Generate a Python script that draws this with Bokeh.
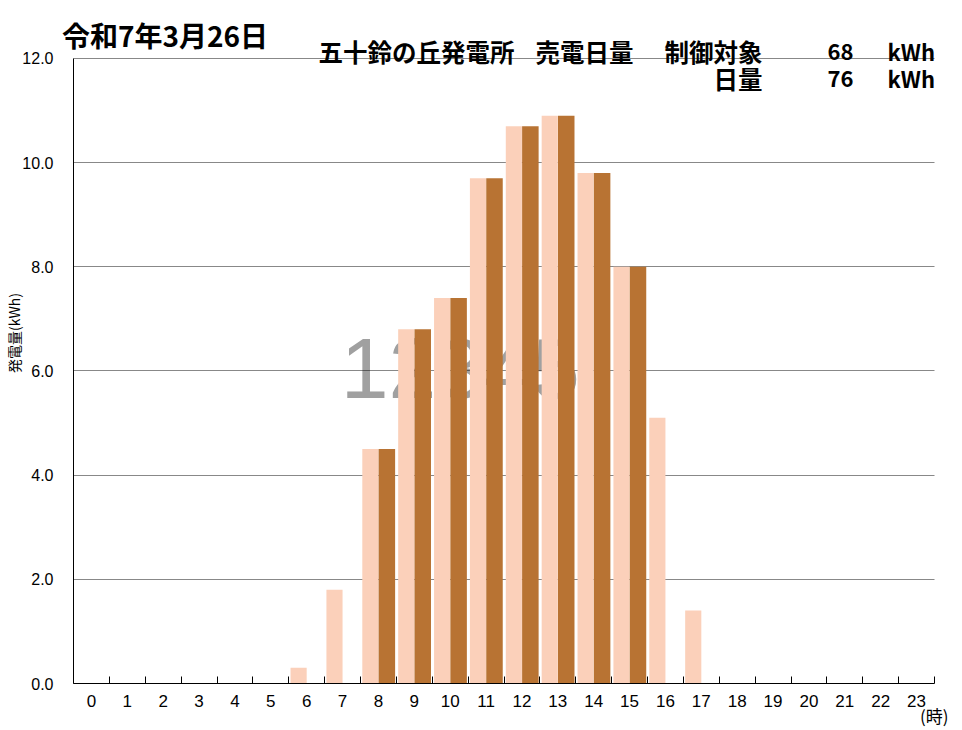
import math
from bokeh.plotting import figure
from bokeh.models import (ColumnDataSource, FixedTicker, PrintfTickFormatter, Label,
                          Range1d, LinearAxis)
from bokeh.transform import dodge
from bokeh.embed import file_html
from bokeh.resources import INLINE

# ---- data ----
hours = list(range(24))
generation = [0, 0, 0, 0, 0, 0, 0.3, 1.8, 4.5, 6.8, 7.4, 9.7,
              10.7, 10.9, 9.8, 8.0, 5.1, 1.4, 0, 0, 0, 0, 0, 0]
controlled = [0, 0, 0, 0, 0, 0, 0, 0, 4.5, 6.8, 7.4, 9.7,
              10.7, 10.9, 9.8, 8.0, 0, 0, 0, 0, 0, 0, 0, 0]
y_ticks = [0, 2, 4, 6, 8, 10, 12]
title_text = "令和7年3月26日"
plant_text = "五十鈴の丘発電所"
sales_text = "売電日量"
ctrl_text = "制御対象"
ctrl_value = "68"
day_text = "日量"
day_value = "76"
unit_text = "kWh"
y_label = "発電量(kWh)"
x_unit = "(時)"
watermark = "12345"

LIGHT = "#FBD0BA"
DARK = "#B87333"
JP = "Noto Sans CJK JP"

W, H = 962, 730
src = ColumnDataSource(dict(hour=hours, gen=generation, ctrl=controlled))

p = figure(width=W, height=H, output_backend="svg", toolbar_location=None,
           x_range=Range1d(-0.5, 23.5), y_range=Range1d(0, 12.383),
           min_border_left=73, min_border_right=W - 934, min_border_top=38,
           min_border_bottom=H - 685)
p.outline_line_color = None
p.background_fill_color = "white"
p.border_fill_color = "white"

p.vbar(x=dodge("hour", -0.225, range=p.x_range), top="gen", width=0.45, source=src,
       fill_color=LIGHT, line_color=None)
p.vbar(x=dodge("hour", 0.235, range=p.x_range), top="ctrl", width=0.46, source=src,
       fill_color=DARK, line_color=None)

# x axis: labels at hours, tick marks between hours
xa = p.xaxis[0]
xa.ticker = FixedTicker(ticks=hours, minor_ticks=[h - 0.5 for h in hours] + [23.5])
xa.major_tick_in = 0
xa.major_tick_out = 0
xa.minor_tick_in = 7
xa.minor_tick_out = 0
xa.minor_tick_line_color = "black"
xa.axis_line_color = "black"
xa.major_label_text_font = "Liberation Sans"
xa.major_label_text_font_size = "17px"
xa.major_label_text_color = "black"
xa.major_label_standoff = 11

# unit label axis under the hour labels
xu = LinearAxis(ticker=FixedTicker(ticks=[23.49]), formatter=PrintfTickFormatter(format=x_unit),
                axis_line_color=None, major_tick_in=0, major_tick_out=0,
                minor_tick_line_color=None, major_label_standoff=-7,
                major_label_text_font=JP, major_label_text_font_size="17px",
                major_label_text_color="black")
p.add_layout(xu, "below")

# y axis
ya = p.yaxis[0]
yt = FixedTicker(ticks=y_ticks)
ya.ticker = yt
ya.bounds = (0, 12)
ya.formatter = PrintfTickFormatter(format="%.1f")
ya.major_tick_in = 0
ya.major_tick_out = 0
ya.minor_tick_line_color = None
ya.axis_line_color = "black"
ya.major_label_text_font = "Liberation Sans"
ya.major_label_text_font_size = "16px"
ya.major_label_text_color = "black"
ya.major_label_standoff = 20
ya.axis_label = "\u3000\u3000\u3000\u3000" + y_label
ya.axis_label_standoff = -5
ya.axis_label_text_font = JP
ya.axis_label_text_font_size = "14px"
ya.axis_label_text_font_style = "normal"
ya.axis_label_text_color = "black"

# date title as a top label axis
ta = LinearAxis(ticker=FixedTicker(ticks=[2.05]), formatter=PrintfTickFormatter(format=title_text),
                axis_line_color=None, major_tick_in=0, major_tick_out=0,
                minor_tick_line_color=None, major_label_standoff=-16,
                major_label_text_font=JP, major_label_text_font_size="28px",
                major_label_text_font_style="bold", major_label_text_color="black")
p.add_layout(ta, "above")

p.xgrid.visible = False
p.ygrid.ticker = yt
p.ygrid.grid_line_color = "#111111"
p.ygrid.grid_line_dash = "1 1"
p.ygrid.grid_line_width = 1

# watermark behind bars
p.add_layout(Label(x=6.95, y=6.05, text=watermark, text_font="Liberation Sans",
                   text_font_size="86px", text_color="#a0a0a0", text_baseline="middle",
                   text_align="left", level="image"))

def lab(x, y, text, size="24.5px", align="left"):
    p.add_layout(Label(x=x, y=y, text=text, text_font=JP, text_font_size=size,
                       text_font_style="bold", text_align=align,
                       text_baseline="middle", text_color="black"))

L1, L2 = 12.134, 11.617
lab(6.329, L1, plant_text)
lab(12.378, L1, sales_text)
lab(18.706, L1, ctrl_text, align="right")
lab(21.242, L1, ctrl_value, size="22px", align="right")
lab(22.19, L1, unit_text, size="22px")
lab(18.706, L2, day_text, align="right")
lab(21.242, L2, day_value, size="22px", align="right")
lab(22.19, L2, unit_text, size="22px")

open("out.html", "w").write(file_html(p, INLINE))
